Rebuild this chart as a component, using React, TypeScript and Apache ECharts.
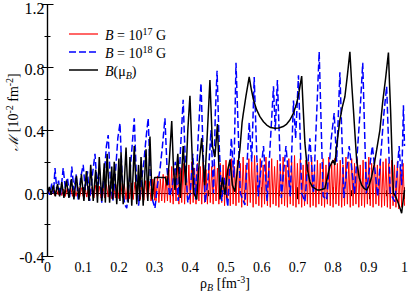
import React, { useEffect, useRef } from "react";
import * as echarts from "echarts";

// ---- data ----
const X_MIN = 0;
const X_MAX = 1;
const Y_MIN = -0.4;
const Y_MAX = 1.2;

// B = 10^17 G  (dense oscillation), low-density part sampled every 0.005 from 0
const RED_LOW_START = 0;
const RED_LOW_STEP = 0.005;
const RED_LOW = [
  0.00, 0.02, -0.01, 0.02, -0.015, 0.025, -0.01, 0.03, -0.015, 0.025,
  -0.02, 0.03, -0.015, 0.035, -0.02, 0.03, -0.02, 0.04, -0.025, 0.035,
  -0.02, 0.04, -0.025, 0.045, -0.02, 0.04, -0.03, 0.05, -0.025, 0.045,
  -0.03, 0.05, -0.03, 0.055, -0.025, 0.05, -0.035, 0.06, -0.03, 0.055,
  -0.035, 0.065, -0.03, 0.06, -0.04, 0.07, -0.035, 0.065, -0.04, 0.07,
  -0.035, 0.075, -0.04, 0.07, -0.045, 0.08, -0.04, 0.075, -0.05, 0.09,
  -0.045,
];
// high-density part sampled every 0.004 from 0.3
const RED_HIGH_START = 0.3;
const RED_HIGH_STEP = 0.004;
const RED_HIGH = [
  0.10, -0.05, 0.11, -0.06, 0.09, -0.05, 0.12, -0.06, 0.11, -0.05,
  0.15, -0.06, 0.17, -0.07, 0.14, -0.05, 0.18, -0.07, 0.16, -0.06,
  0.19, -0.07, 0.15, -0.05, 0.18, -0.07, 0.2, -0.06, 0.16, -0.07,
  0.19, -0.05, 0.17, -0.07, 0.2, -0.06, 0.15, -0.07, 0.19, -0.06,
  0.17, -0.07, 0.2, -0.05, 0.16, -0.07, 0.19, -0.06, 0.18, -0.08,
  0.21, -0.06, 0.18, -0.08, 0.22, -0.07, 0.17, -0.08, 0.21, -0.06,
  0.19, -0.09, 0.23, -0.07, 0.18, -0.08, 0.22, -0.06, 0.2, -0.09,
  0.24, -0.07, 0.19, -0.08, 0.22, -0.09, 0.18, -0.07, 0.23, -0.08,
  0.2, -0.09, 0.22, -0.07, 0.17, -0.08, 0.21, -0.09, 0.19, -0.07,
  0.23, -0.08, 0.18, -0.09, 0.22, -0.07, 0.2, -0.08, 0.24, -0.09,
  0.19, -0.07, 0.22, -0.09, 0.18, -0.08, 0.21, -0.07, 0.2, -0.09,
  0.23, -0.08, 0.17, -0.09, 0.21, -0.07, 0.19, -0.08, 0.22, -0.09,
  0.18, -0.07, 0.23, -0.08, 0.2, -0.09, 0.22, -0.07, 0.19, -0.08,
  0.21, -0.09, 0.18, -0.08, 0.23, -0.07, 0.2, -0.09, 0.22, -0.08,
  0.19, -0.07, 0.22, -0.09, 0.18, -0.08, 0.21, -0.09, 0.2, -0.07,
  0.23, -0.08, 0.19, -0.09, 0.22, -0.07, 0.18, -0.08, 0.21, -0.09,
  0.2, -0.08, 0.22, -0.09, 0.19, -0.1, 0.21, -0.08, 0.18, -0.09,
  0.2, -0.1, 0.17, -0.09, 0.19, -0.08,
];

// B = 10^18 G
const BLUE: [number, number][] = [
  [0, 0.02], [0.006, -0.01], [0.012, 0.06], [0.017, 0.0], [0.021, 0.16], [0.026, 0.02],
  [0.031, 0.08], [0.036, -0.02], [0.044, 0.16], [0.05, 0.03], [0.056, 0.1], [0.062, -0.03],
  [0.068, 0.17], [0.074, 0.02], [0.08, 0.12], [0.086, -0.04], [0.093, 0.1], [0.1, 0.18],
  [0.106, 0.02], [0.112, 0.14], [0.118, -0.05], [0.126, 0.12], [0.133, 0.25], [0.139, 0.05],
  [0.145, 0.16], [0.152, -0.06], [0.16, 0.15], [0.165, 0.3], [0.17, 0.37], [0.176, 0.08],
  [0.183, -0.05], [0.19, 0.12], [0.197, 0.35], [0.203, 0.445], [0.209, 0.1], [0.216, -0.07],
  [0.222, -0.096], [0.23, 0.1], [0.237, 0.3], [0.243, 0.477], [0.249, 0.1], [0.255, -0.08],
  [0.262, 0.05], [0.27, 0.2], [0.276, 0.35], [0.282, 0.477], [0.288, 0.1], [0.295, -0.05],
  [0.301, -0.096], [0.308, 0.05], [0.315, 0.15], [0.322, 0.3], [0.329, 0.477], [0.335, 0.15],
  [0.342, -0.02], [0.35, 0.05], [0.358, 0.2], [0.366, -0.05], [0.373, 0.3], [0.38, 0.594],
  [0.386, 0.2], [0.393, -0.06], [0.4, 0.0], [0.407, 0.25], [0.415, -0.04], [0.422, 0.35],
  [0.43, 0.7], [0.436, 0.25], [0.442, -0.06], [0.45, 0.1], [0.458, 0.4], [0.465, 0.0],
  [0.47, 0.5], [0.475, 0.78], [0.481, 0.3], [0.488, -0.05], [0.495, 0.1], [0.505, -0.086],
  [0.515, 0.35], [0.522, 0.1], [0.528, 0.83], [0.54, 0.0], [0.553, -0.075], [0.565, 0.45],
  [0.572, 0.2], [0.579, 0.74], [0.59, -0.02], [0.605, 0.3], [0.615, -0.05], [0.633, 0.68],
  [0.638, 0.4], [0.644, 0.72], [0.655, -0.03], [0.668, 0.3], [0.68, -0.02], [0.689, 0.59],
  [0.695, 0.35], [0.703, 0.75], [0.712, 0.0], [0.721, -0.054], [0.735, 0.35], [0.745, 0.0],
  [0.761, 0.9], [0.772, -0.02], [0.782, -0.043], [0.795, 0.35], [0.803, 0.51], [0.81, 0.2],
  [0.819, 0.77], [0.83, -0.03], [0.845, 0.3], [0.86, 0.0], [0.875, 0.5], [0.883, 0.83],
  [0.893, 0.0], [0.91, 0.3], [0.925, -0.02], [0.942, 0.5], [0.95, 0.68], [0.96, 0.0],
  [0.973, -0.054], [0.985, 0.3], [0.992, 0.05], [0.997, 0.56], [1.0, 0.3],
];

// B(mu_B)
const BLACK: [number, number][] = [
  [0, 0.0], [0.005, 0.04], [0.01, -0.01], [0.016, 0.05], [0.022, -0.02], [0.028, 0.06],
  [0.034, -0.02], [0.04, 0.07], [0.046, -0.03], [0.053, 0.08], [0.06, -0.03], [0.067, 0.09],
  [0.074, -0.04], [0.081, 0.11], [0.088, -0.04], [0.095, 0.12], [0.102, -0.05], [0.109, 0.14],
  [0.116, -0.05], [0.121, 0.18], [0.128, -0.05], [0.135, 0.15], [0.14, -0.06], [0.145, 0.23],
  [0.152, -0.05], [0.159, 0.19], [0.162, -0.06], [0.167, 0.25], [0.174, -0.06], [0.18, 0.17],
  [0.183, -0.04], [0.187, 0.2], [0.194, -0.07], [0.2, 0.22], [0.203, -0.05], [0.206, 0.26],
  [0.212, -0.07], [0.22, 0.29], [0.226, -0.06], [0.231, 0.23], [0.236, -0.08], [0.243, 0.3],
  [0.25, -0.07], [0.255, 0.18], [0.258, -0.05], [0.262, 0.23], [0.268, -0.08], [0.276, 0.28],
  [0.281, -0.05], [0.287, 0.36], [0.293, -0.04], [0.3, 0.1], [0.33, 0.1], [0.335, 0.05],
  [0.341, 0.2], [0.348, 0.46], [0.353, 0.15], [0.357, 0.02], [0.365, 0.25], [0.372, -0.03],
  [0.38, 0.3], [0.387, 0.05], [0.393, 0.4], [0.399, 0.62], [0.405, 0.25], [0.41, 0.0],
  [0.418, -0.04], [0.425, 0.2], [0.432, 0.35], [0.44, 0.05], [0.447, 0.35], [0.455, 0.72],
  [0.462, 0.3], [0.469, 0.23], [0.476, 0.44], [0.483, -0.04], [0.49, 0.1], [0.497, -0.01],
  [0.505, 0.15], [0.511, 0.21], [0.518, 0.05], [0.525, 0.01], [0.532, 0.15], [0.539, 0.28],
  [0.545, 0.45], [0.548, 0.5], [0.556, 0.62], [0.565, 0.74], [0.571, 0.66], [0.577, 0.594],
  [0.586, 0.53], [0.595, 0.487], [0.605, 0.455], [0.614, 0.434], [0.625, 0.418], [0.637, 0.413],
  [0.648, 0.415], [0.66, 0.424], [0.67, 0.44], [0.679, 0.466], [0.689, 0.51], [0.698, 0.572],
  [0.705, 0.65], [0.712, 0.746], [0.716, 0.55], [0.721, 0.32], [0.728, 0.15], [0.735, 0.073],
  [0.742, 0.04], [0.749, 0.03], [0.756, 0.02], [0.763, 0.02], [0.77, 0.025], [0.777, 0.03],
  [0.784, 0.1], [0.791, 0.17], [0.8, 0.21], [0.805, 0.18], [0.81, 0.3], [0.819, 0.466],
  [0.826, 0.55], [0.833, 0.614], [0.84, 0.75], [0.847, 0.9], [0.852, 0.7], [0.857, 0.53],
  [0.862, 0.35], [0.866, 0.21], [0.873, 0.1], [0.88, 0.052], [0.887, 0.03], [0.894, 0.02],
  [0.901, 0.05], [0.908, 0.105], [0.915, 0.18], [0.922, 0.275], [0.931, 0.4], [0.939, 0.583],
  [0.947, 0.73], [0.955, 0.895], [0.958, 0.7], [0.961, 0.53], [0.965, 0.25], [0.969, 0.0],
  [0.975, -0.02], [0.982, -0.06], [0.988, -0.1], [0.992, -0.128], [0.996, -0.05], [1.0, 0.02],
];

const SERIES_NAMES = ["B = 10^17 G", "B = 10^18 G", "B(mu_B)"];
const LEGEND_RICH = ["{i|B} = 10{sup|17} G", "{i|B} = 10{sup|18} G", "{i|B}(μ{sub|B})"];
const COLORS = ["#ff0000", "#0000ff", "#000000"];

const FONT = "Liberation Serif";

export default function App() {
  const ref = useRef<HTMLDivElement>(null);

  useEffect(() => {
    if (!ref.current) return;
    const chart = echarts.init(ref.current, null, { renderer: "svg" });

    const redData: [number, number][] = [];
    RED_LOW.forEach((v, i) => redData.push([RED_LOW_START + i * RED_LOW_STEP, v]));
    RED_HIGH.forEach((v, i) => redData.push([RED_HIGH_START + i * RED_HIGH_STEP, v]));

    const rich = {
      i: { fontStyle: "italic", fontFamily: FONT, fontSize: 14, lineHeight: 18, fill: "#000" },
      sup: { fontFamily: FONT, fontSize: 10, lineHeight: 10, verticalAlign: "top", fill: "#000" },
      sub: { fontFamily: FONT, fontStyle: "italic", fontSize: 10, lineHeight: 10, verticalAlign: "bottom", fill: "#000" },
      n: { fontFamily: FONT, fontSize: 14, lineHeight: 18, fill: "#000" },
      m: { fontFamily: "DejaVu Serif", fontStyle: "italic", fontSize: 13, lineHeight: 18, fill: "#000" },
    };

    const axisCommon = {
      axisLine: { show: true, lineStyle: { color: "#000", width: 1.2 } },
      axisTick: { show: true, inside: true, length: 6, lineStyle: { color: "#000", width: 1 } },
      minorTick: { show: true, splitNumber: 2, length: 3, lineStyle: { color: "#000", width: 1 } },
      splitLine: { show: false },
      minorSplitLine: { show: false },
    };

    const legendY = [34, 52, 70];
    const graphics: any[] = [];
    LEGEND_RICH.forEach((txt, k) => {
      graphics.push({
        type: "line",
        shape: { x1: 69, y1: legendY[k], x2: 98, y2: legendY[k] },
        style: {
          stroke: COLORS[k],
          lineWidth: k === 0 ? 1.2 : 1.5,
          lineDash: k === 1 ? [7, 3] : null,
        },
        z: 10,
      });
      graphics.push({
        type: "text",
        x: 105,
        y: legendY[k] + 1,
        style: {
          text: txt,
          rich,
          fontFamily: FONT,
          fontSize: 14,
          lineHeight: 18,
          fill: "#000",
          verticalAlign: "middle",
          align: "left",
        },
        z: 10,
      });
    });
    graphics.push({
      type: "text",
      x: 225,
      y: 283,
      style: {
        text: "{n|ρ}{sub|B}{n| [fm}{sup|-3}{n|]}",
        rich,
        fontFamily: FONT,
        fontSize: 14,
        fill: "#000",
        align: "center",
        verticalAlign: "middle",
      },
    });
    graphics.push({
      type: "text",
      x: 13,
      y: 112,
      rotation: Math.PI / 2,
      style: {
        text: "{m|ℳ}{n| [10}{sup|-2}{n| fm}{sup|-2}{n|]}",
        rich,
        fontFamily: FONT,
        fontSize: 14,
        fill: "#000",
        align: "center",
        verticalAlign: "middle",
      },
    });

    chart.setOption({
      animation: false,
      backgroundColor: "#fff",
      textStyle: { fontFamily: FONT },
      grid: { left: 47.5, right: 4.5, top: 4.7, bottom: 40, containLabel: false, outerBoundsMode: "none" },
      xAxis: [
        {
          type: "value",
          min: X_MIN,
          max: X_MAX,
          interval: 0.1,
          position: "bottom",
          ...axisCommon,
          axisLabel: {
            color: "#000",
            fontFamily: FONT,
            fontSize: 14,
            margin: 4,
            formatter: (v: number) => (v === 0 ? "0" : Math.abs(v - 1) < 1e-9 ? "1" : v.toFixed(1)),
          },
        },
        {
          type: "value",
          min: X_MIN,
          max: X_MAX,
          interval: 0.1,
          position: "top",
          ...axisCommon,
          axisLabel: { show: false },
        },
      ],
      yAxis: [
        {
          type: "value",
          min: Y_MIN,
          max: Y_MAX,
          interval: 0.4,
          position: "left",
          ...axisCommon,
          axisLabel: {
            color: "#000",
            fontFamily: FONT,
            fontSize: 16,
            margin: 3,
            verticalAlign: "top",
            formatter: (v: number) =>
              Math.abs(v - Y_MAX) < 1e-9 ? `{t|${v.toFixed(1)}}` : `{d|${v.toFixed(1)}}`,
            rich: {
              t: { fontFamily: FONT, fontSize: 16, lineHeight: 8, fill: "#000" },
              d: { fontFamily: FONT, fontSize: 16, lineHeight: 3, fill: "#000" },
            },
          },
        },
        {
          type: "value",
          min: Y_MIN,
          max: Y_MAX,
          interval: 0.4,
          position: "right",
          ...axisCommon,
          axisLabel: { show: false },
        },
      ],
      graphic: graphics,
      series: [
        {
          name: SERIES_NAMES[0],
          type: "line",
          data: redData,
          showSymbol: false,
          symbol: "none",
          lineStyle: { color: COLORS[0], width: 1 },
          clip: true,
          z: 2,
        },
        {
          name: SERIES_NAMES[1],
          type: "line",
          data: BLUE,
          showSymbol: false,
          symbol: "none",
          lineStyle: { color: COLORS[1], width: 1.5, type: [7, 3] },
          clip: true,
          z: 3,
        },
        {
          name: SERIES_NAMES[2],
          type: "line",
          data: BLACK,
          showSymbol: false,
          symbol: "none",
          lineStyle: { color: COLORS[2], width: 1.5 },
          clip: true,
          z: 4,
        },
      ],
    });

    return () => chart.dispose();
  }, []);

  return (
    <div
      ref={ref}
      style={{ position: "fixed", left: 0, top: 0, width: 409, height: 296, background: "#fff" }}
    />
  );
}
